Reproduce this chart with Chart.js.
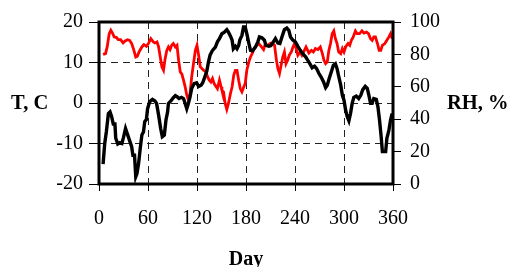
<!DOCTYPE html>
<html>
<head>
<meta charset="utf-8">
<script src="https://cdn.jsdelivr.net/npm/chart.js@4.4.1/dist/chart.umd.min.js"></script>
<style>
  body { margin: 0; background: #fff; }
  canvas { display: block; }
</style>
</head>
<body>
<canvas id="myChart" width="511" height="267"></canvas>
<script>
// temperature, C
const tDays = [5, 7, 9, 11.5, 13.5, 15.5, 17.5, 19.5, 20.5, 23, 25.5, 28, 30, 32.5, 35, 38, 40, 41.5, 43.5, 45, 46.5, 48.5, 50.5, 52.5, 54.5, 56, 58, 59.5, 62, 65.5, 68.5, 70.5, 73, 75.5, 77.5, 80, 82, 84, 85, 88, 91, 93.5, 96, 98, 101, 103.5, 105.5, 107.5, 109.5, 111.5, 113.5, 116.5, 119.5, 122, 125, 127, 129.5, 132, 134, 136, 139, 142.5, 145, 147.5, 150.5, 153.5, 156.5, 158.5, 161, 163, 164.5, 167, 169, 171, 172.5, 175, 177, 179, 181, 183.5, 185.5, 188, 191.5, 194.5, 196.5, 199.5, 202.5, 204.5, 208, 210.5, 213.5, 216, 219, 221.5, 224, 227, 230, 232.5, 234.5, 237.5, 240.5, 243.5, 246.5, 249.5, 253, 255.5, 258.5, 261, 264, 266.5, 269, 272, 275, 277.5, 279.5, 281.5, 284.5, 287, 289.5, 291.5, 293.5, 296, 298, 300, 302, 304, 306, 308, 310, 312, 315, 318, 320.5, 323, 326, 328.5, 330.5, 332.5, 334.5, 336.5, 339.5, 341.5, 343.5, 345.5, 347, 349, 351, 352.5, 355, 357, 359]
const tValues = [-15.1, -10, -7.1, -2.6, -2.2, -3.4, -5.2, -5.2, -8.7, -10.1, -9.8, -10, -8.5, -6.3, -7.8, -9.6, -10.8, -12.9, -12.9, -18.2, -17.4, -14.9, -11.2, -7.9, -7.1, -4.6, -4.1, -1.4, 0.3, 0.9, 0.5, -0.1, -3, -6.3, -8.3, -7.9, -4.2, -2.2, -0.1, 0.5, 1.3, 1.8, 1.5, 1.1, 1.4, 1.1, -0.1, -1.4, -0.1, 1.5, 3.6, 4.8, 5, 4.1, 4.4, 5, 6.4, 7.9, 10.1, 11.8, 13, 13.8, 15.1, 15.9, 17.1, 17.5, 18.1, 17.5, 16.5, 15.5, 13.4, 14, 13.4, 14.2, 15.6, 16.7, 18.8, 18.8, 17.1, 14.7, 13, 12.9, 13.8, 15.1, 16.3, 16.1, 15.5, 14.2, 14, 14.2, 15.1, 15.9, 14.8, 14.7, 16.3, 18.1, 18.5, 17.9, 16.3, 15.5, 15.1, 14, 13, 12.2, 11.4, 10.6, 9.6, 8.7, 9.1, 8.5, 7.4, 6.4, 5.2, 3.8, 4.4, 5.8, 7.7, 9.3, 9.7, 8.5, 6.6, 4.4, 1.9, 0.7, -1.8, -3.4, -4.4, -2.6, -0.1, 1.4, 1.7, 1.1, 1.9, 3.3, 4.1, 3.6, 1.9, -0.1, -0.1, 1.1, 0.9, -0.9, -4.2, -8.3, -12, -12, -12, -8.7, -6.7, -4.2, -2.6]

// relative humidity, %
const rhDays = [5, 8, 10, 12.5, 14.5, 16.5, 18.5, 21.5, 23.5, 26.5, 29.5, 32, 35, 37.5, 40, 42.5, 45, 47, 49, 52.5, 55, 58, 60.5, 63.5, 66.5, 68.5, 71, 73, 75, 77, 79, 81, 83, 85, 87, 89, 91, 93.5, 95.5, 97.5, 99.5, 101.5, 103.5, 105.5, 107.5, 109.5, 111.5, 113.5, 116, 118, 120, 122, 124, 126, 128, 131, 133, 135, 137, 139, 141, 143, 145, 147.5, 149.5, 150.5, 152.5, 154.5, 156.5, 158.5, 161, 163, 165, 167, 169, 171, 173, 175, 177, 179, 181, 183.5, 185.5, 187.5, 190, 193, 195.5, 198.5, 201.5, 203.5, 206.5, 209.5, 212, 215, 217, 219, 221, 223, 225, 227, 229, 231, 233, 235.5, 237.5, 239.5, 241.5, 243.5, 246.5, 248.5, 251.5, 253.5, 257, 260, 262.5, 265, 268, 271, 273.5, 275.5, 277.5, 279.5, 281.5, 283.5, 285.5, 287.5, 289.5, 291.5, 293.5, 296, 298, 300, 302, 305, 307, 309, 311, 314, 316, 319, 322, 324.5, 327.5, 330, 332.5, 334.5, 336.5, 338.5, 341, 343, 345, 347, 350, 352.5, 355, 357, 359]
const rhValues = [80, 80.5, 84.6, 92.8, 94.9, 93.2, 90.8, 90.4, 89.1, 89.1, 87.1, 88.3, 89.1, 88.7, 86.7, 83, 78.4, 78.9, 81.5, 84.6, 86, 85, 86.7, 89.7, 87.7, 87.1, 87.7, 84.6, 78.4, 72.3, 70.2, 77.4, 82.5, 84.6, 83, 85.6, 86.7, 84.6, 85.6, 76.4, 69.2, 67.8, 64.1, 60, 54.8, 51.8, 55.9, 66.1, 75.4, 82.5, 85.6, 79.5, 72.3, 71.3, 70.2, 69.2, 66.1, 64.1, 63, 65.1, 62, 60.4, 58.9, 64.1, 60, 57.9, 56.9, 49.7, 46, 49.7, 55.9, 60, 67.2, 70.2, 70.2, 64.1, 58.9, 56.9, 59.6, 62, 70.2, 75.4, 78.4, 80.5, 83.6, 85.6, 86.7, 85, 83, 86.2, 85.6, 86.7, 87.1, 85.6, 77.4, 71.3, 68.2, 73.3, 78.4, 81.5, 74.3, 76.4, 79.5, 81.5, 84.6, 86.7, 83.6, 79.5, 81.5, 79.5, 82.5, 84.6, 80.9, 82.5, 81.5, 83.6, 83, 84.6, 80.5, 76.4, 74.3, 75.4, 82.5, 86.7, 92.8, 94.5, 89.7, 86.7, 81.5, 80.5, 83.6, 81.5, 84.6, 86.7, 85.6, 88.7, 90.4, 94.5, 92.8, 92.8, 94.5, 93.2, 93.8, 92.8, 89.7, 88.7, 90.8, 90.8, 86.7, 82.5, 82.5, 85.6, 86.7, 88.7, 90.8, 92.8, 89.7]

const xTicks = [0, 60, 120, 180, 240, 300, 360]

function toPoints(xs, ys) {
    return xs.map((x, i) => ({x: x, y: ys[i]}))
}

const serif = 'Liberation Serif, Times New Roman, serif'
const dash = [7, 5]

// frame + side titles
const frame = {
    id: 'frame',
    afterDatasetsDraw(chart) {
        const {ctx, chartArea: a} = chart
        ctx.save()
        ctx.strokeStyle = '#000'
        ctx.lineWidth = 3
        ctx.strokeRect(a.left, a.top, a.right - a.left, a.bottom - a.top)
        ctx.fillStyle = '#000'
        ctx.font = 'bold 20.5px ' + serif
        ctx.textBaseline = 'middle'
        ctx.textAlign = 'left'
        ctx.fillText('T, C', 11, 104)
        ctx.fillText('RH, %', 447, 104)
        ctx.restore()
    }
}

const ctx = document.getElementById('myChart').getContext('2d')
const myChart = new Chart(ctx, {
    type: 'line',
    data: {
        datasets: [{
            label: 'T',
            data: toPoints(tDays, tValues),
            yAxisID: 'y',
            borderColor: '#000',
            borderWidth: 3.4,
            pointRadius: 0,
            tension: 0
        }, {
            label: 'RH',
            data: toPoints(rhDays, rhValues),
            yAxisID: 'y1',
            borderColor: '#ff0000',
            borderWidth: 2.8,
            pointRadius: 0,
            tension: 0
        }]
    },
    options: {
        responsive: false,
        animation: false,
        layout: {padding: {top: 22, left: 0, right: 0, bottom: 0}},
        plugins: {
            legend: {display: false},
            tooltip: {enabled: false}
        },
        scales: {
            x: {
                type: 'linear',
                min: 0,
                max: 360,
                afterBuildTicks: (s) => { s.ticks = xTicks.map(v => ({value: v})) },
                afterFit: (s) => { s.height = 83 },
                border: {display: false, dash: dash},
                grid: {color: '#222', lineWidth: 1, tickLength: 7, tickColor: '#000', tickBorderDash: []},
                ticks: {color: '#000', padding: 16, font: {family: serif, size: 20}, maxRotation: 0},
                title: {display: true, text: 'Day', color: '#000', padding: 0,
                        font: {family: serif, size: 20, weight: 'bold', lineHeight: 0.7}}
            },
            y: {
                position: 'left',
                min: -20,
                max: 20,
                afterFit: (s) => { s.width = 99 },
                border: {display: false, dash: dash},
                grid: {color: '#222', lineWidth: 1, tickLength: 10, tickColor: '#000', tickBorderDash: []},
                ticks: {stepSize: 10, color: '#000', padding: 6, font: {family: serif, size: 20}}
            },
            y1: {
                position: 'right',
                min: 0,
                max: 100,
                afterFit: (s) => { s.width = 118 },
                border: {display: false},
                grid: {drawOnChartArea: false, tickLength: 8, tickColor: '#000'},
                ticks: {stepSize: 20, color: '#000', padding: 9, font: {family: serif, size: 20}}
            }
        }
    },
    plugins: [frame]
})
</script>
</body>
</html>
